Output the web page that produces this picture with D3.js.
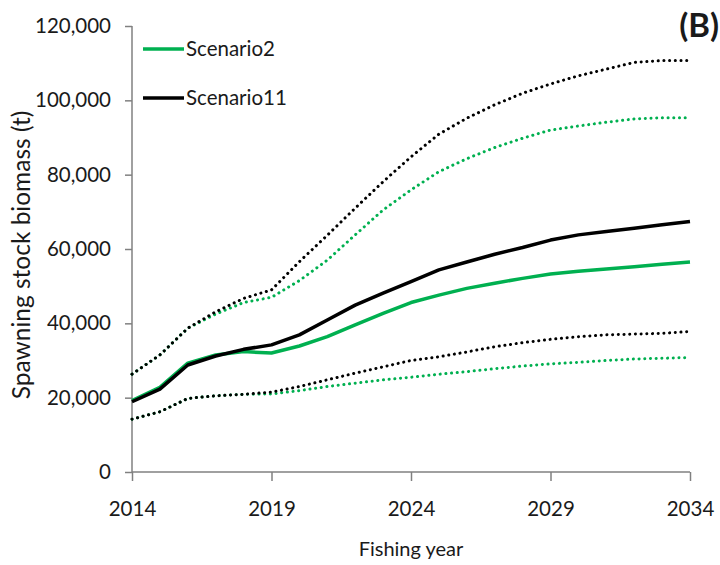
<!DOCTYPE html>
<html>
<head>
<meta charset="utf-8">
<script src="https://cdn.jsdelivr.net/npm/d3@7"></script>
<style>
  body { margin: 0; background: #fff; }
  svg { display: block; }
  text { font-family: Lato, "Open Sans", sans-serif; fill: #1a1a1a; }
</style>
</head>
<body>
<svg id="chart" width="720" height="565"></svg>
<script>
// fishing years
var years = [2014, 2015, 2016, 2017, 2018, 2019, 2020, 2021, 2022, 2023, 2024,
             2025, 2026, 2027, 2028, 2029, 2030, 2031, 2032, 2033, 2034]

// Scenario2 (green)
var s2_mid = [19200, 22800, 29300, 31500, 32400, 32000, 33900, 36400, 39600, 42700, 45600,
              47600, 49400, 50800, 52100, 53300, 54000, 54600, 55200, 55900, 56500]
var s2_upper = [26300, 31500, 38700, 42500, 45600, 47000, 51500, 57000, 63800, 70500, 75900,
                80800, 84300, 87300, 89800, 92000, 93100, 94100, 95000, 95300, 95300]
var s2_lower = [14200, 16200, 19800, 20500, 20900, 21000, 21900, 23000, 23900, 24800, 25500,
                26300, 27000, 27800, 28500, 29100, 29500, 30000, 30400, 30600, 30800]

// Scenario11 (black)
var s11_mid = [18900, 22300, 28800, 31200, 33000, 34200, 36900, 40900, 44900, 48100, 51200,
               54400, 56500, 58600, 60400, 62400, 63800, 64700, 65600, 66500, 67400]
var s11_upper = [26300, 31500, 38700, 43100, 46700, 49000, 56600, 63700, 71000, 78100, 84800,
                 90900, 95200, 98800, 101900, 104400, 106600, 108400, 110200, 110700, 110700]
var s11_lower = [14200, 16200, 19800, 20500, 20900, 21500, 23000, 24800, 26600, 28300, 30000,
                 31000, 32300, 33700, 34800, 35700, 36400, 36900, 37100, 37300, 37800]

var xTicks = [2014, 2019, 2024, 2029, 2034]
var yTicks = [0, 20000, 40000, 60000, 80000, 100000, 120000]

var green = "#00b050"
var black = "#000000"
var axisGray = "#808080"

var svg = d3.select("#chart")

var x = d3.scaleLinear().domain([2014, 2034]).range([132, 690])
var y = d3.scaleLinear().domain([0, 120000]).range([472, 26])

// axes
var yAxis = d3.axisLeft(y).tickValues(yTicks).tickSize(7).tickPadding(14).tickFormat(d3.format(","))
var xAxis = d3.axisBottom(x).tickValues(xTicks).tickSize(9).tickPadding(20).tickFormat(d3.format("d"))

var gy = svg.append("g").attr("transform", "translate(132,0)").call(yAxis)
var gx = svg.append("g").attr("transform", "translate(0,472)").call(xAxis)

;[gx, gy].forEach(function(g) {
  g.select(".domain").attr("stroke", axisGray).attr("stroke-width", 1.5)
  g.selectAll(".tick line").attr("stroke", axisGray).attr("stroke-width", 1.5)
  g.selectAll(".tick text").attr("font-family", "Lato, sans-serif").attr("font-size", 20.5).attr("fill", "#1a1a1a")
})
gy.select(".domain").attr("d", "M0," + y(0) + "V" + y(120000))
gx.select(".domain").attr("d", "M" + x(2014) + ",0H" + x(2034))

// lines
var line = d3.line()
  .x(function(d) { return x(d[0]) })
  .y(function(d) { return y(d[1]) })

function zipYears(vals) {
  return years.map(function(yr, i) { return [yr, vals[i]] })
}

var series = [
  { vals: s2_lower, color: green, dotted: true },
  { vals: s11_lower, color: black, dotted: true },
  { vals: s2_upper, color: green, dotted: true },
  { vals: s11_upper, color: black, dotted: true },
  { vals: s2_mid, color: green, dotted: false },
  { vals: s11_mid, color: black, dotted: false }
]

series.forEach(function(s) {
  var p = svg.append("path")
    .datum(zipYears(s.vals))
    .attr("d", line)
    .attr("fill", "none")
    .attr("stroke", s.color)
  if (s.dotted) {
    p.attr("stroke-width", 3).attr("stroke-linecap", "round").attr("stroke-dasharray", "0.1 5.6")
  } else {
    p.attr("stroke-width", 3.5).attr("stroke-linejoin", "round")
  }
})

// legend
var legend = [
  { name: "Scenario2", color: green },
  { name: "Scenario11", color: black }
]
legend.forEach(function(d, i) {
  var ly = 49 + i * 49
  svg.append("line")
    .attr("x1", 143).attr("x2", 184)
    .attr("y1", ly).attr("y2", ly)
    .attr("stroke", d.color).attr("stroke-width", 3.5)
  svg.append("text")
    .attr("x", 186).attr("y", ly + 7)
    .attr("font-size", 20.5)
    .text(d.name)
})

// axis titles
svg.append("text")
  .attr("x", 411).attr("y", 556)
  .attr("text-anchor", "middle")
  .attr("font-size", 20)
  .text("Fishing year")

svg.append("text")
  .attr("transform", "translate(30,255) rotate(-90)")
  .attr("text-anchor", "middle")
  .attr("font-size", 24.5)
  .text("Spawning stock biomass (t)")

// panel label
svg.append("text")
  .attr("x", 719).attr("y", 37)
  .attr("text-anchor", "end")
  .attr("font-size", 33)
  .attr("font-weight", "bold")
  .text("(B)")
</script>
</body>
</html>
